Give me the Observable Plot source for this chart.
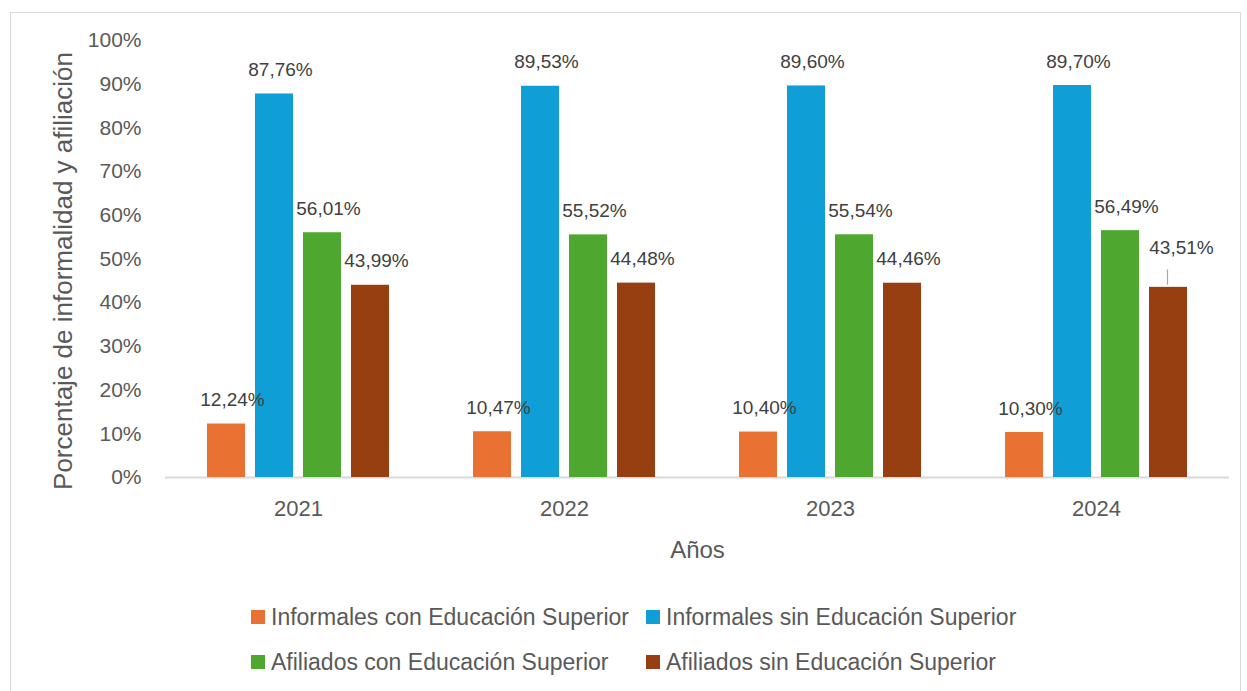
<!DOCTYPE html>
<html>
<head>
<meta charset="utf-8">
<script src="https://cdn.jsdelivr.net/npm/d3@7"></script>
<script src="https://cdn.jsdelivr.net/npm/@observablehq/plot@0.6"></script>
<style>
  html, body { margin: 0; padding: 0; background: #fff; overflow: hidden; }
  body { width: 1247px; height: 691px; position: relative; font-family: "Liberation Sans", Arial, sans-serif; }
  #frame { position: absolute; left: 10px; top: 12px; width: 1231px; height: 700px; border: 1px solid #d9d9d9; box-sizing: border-box; }
  #chart { position: absolute; left: 0; top: 0; }
  #legend { position: absolute; left: 251px; top: 603px; display: grid; grid-template-columns: 395px auto; row-gap: 17px; color: #595959; font-size: 23px; }
  .item { display: flex; align-items: center; height: 28px; white-space: nowrap; }
  .sw { width: 14px; height: 14px; margin-right: 6px; flex: none; }
</style>
</head>
<body>
<div id="frame"></div>
<div id="chart"></div>
<div id="legend"></div>
<script>
const years = ["2021", "2022", "2023", "2024"];
const series = [
  "Informales con Educación Superior",
  "Informales sin Educación Superior",
  "Afiliados con Educación Superior",
  "Afiliados sin Educación Superior"
];
const informalesCon = [12.24, 10.47, 10.40, 10.30];
const informalesSin = [87.76, 89.53, 89.60, 89.70];
const afiliadosCon = [56.01, 55.52, 55.54, 56.49];
const afiliadosSin = [43.99, 44.48, 44.46, 43.51];
const colors = ["#E97132", "#0F9ED5", "#4EA72E", "#973F10"];
const yTicks = [0, 10, 20, 30, 40, 50, 60, 70, 80, 90, 100];
const yTitle = "Porcentaje de informalidad y afiliación";
const xTitle = "Años";

const seriesValues = [informalesCon, informalesSin, afiliadosCon, afiliadosSin];
const data = [];
years.forEach((yr, i) => {
  series.forEach((s, j) => data.push({year: yr, serie: s, value: seriesValues[j][i]}));
});
const fmt = d => d.value.toFixed(2).replace(".", ",") + "%";
const isLeader = d => d.year === "2024" && d.serie === series[3];

const plot = Plot.plot({
  width: 1247,
  height: 580,
  marginLeft: 164,
  marginRight: 17,
  marginTop: 40,
  marginBottom: 103,
  style: { fontFamily: "'Liberation Sans', Arial, sans-serif", color: "#595959", background: "transparent", overflow: "visible" },
  fx: { domain: years, padding: 0, axis: null },
  x: { domain: series, paddingInner: 0.216, paddingOuter: 0.855, axis: null },
  y: { domain: [0, 100], axis: null },
  color: { domain: series, range: colors },
  marks: [
    Plot.axisY({ticks: yTicks, tickFormat: d => d + "%", tickSize: 0, tickPadding: 24, fontSize: 21, label: yTitle, labelAnchor: "center", labelOffset: 112, labelArrow: "none"}),
    Plot.axisFx({anchor: "bottom", tickSize: 0, tickPadding: 23, fontSize: 22, label: xTitle, labelAnchor: "center", labelOffset: 80, labelArrow: "none"}),
    Plot.ruleY([0], {stroke: "#d9d9d9", strokeWidth: 2}),
    Plot.barY(data, {fx: "year", x: "serie", y: "value", fill: "serie"}),
    Plot.text(data.filter(d => !isLeader(d)), {fx: "year", x: "serie", y: "value", text: fmt, dy: -24, dx: 6, fontSize: 19, fill: "#404040"}),
    Plot.text(data.filter(isLeader), {fx: "year", x: "serie", y: "value", text: fmt, dy: -39, dx: 13, fontSize: 19, fill: "#404040"}),
    Plot.ruleX(data.filter(isLeader), {fx: "year", x: "serie", y1: d => d.value + 0.5, y2: d => d.value + 4, dx: -1, stroke: "#a6a6a6", strokeWidth: 1.2})
  ]
});
document.getElementById("chart").appendChild(plot);

// axis title font sizes and fine placement
plot.querySelectorAll("g[aria-label='y-axis label']").forEach(g => {
  const tr = g.getAttribute("transform") || "";
  g.setAttribute("transform", "translate(0,12) " + tr);
  g.querySelectorAll("text").forEach(t => t.setAttribute("font-size", 26));
});
plot.querySelectorAll("g[aria-label='fx-axis label'] text").forEach(t => t.setAttribute("font-size", 24));

const color = plot.scale("color");
const legend = document.getElementById("legend");
color.domain.forEach((name, i) => {
  const item = document.createElement("div");
  item.className = "item";
  const sw = document.createElement("span");
  sw.className = "sw";
  sw.style.background = color.range[i];
  const label = document.createElement("span");
  label.textContent = name;
  item.appendChild(sw);
  item.appendChild(label);
  legend.appendChild(item);
});
</script>
</body>
</html>
